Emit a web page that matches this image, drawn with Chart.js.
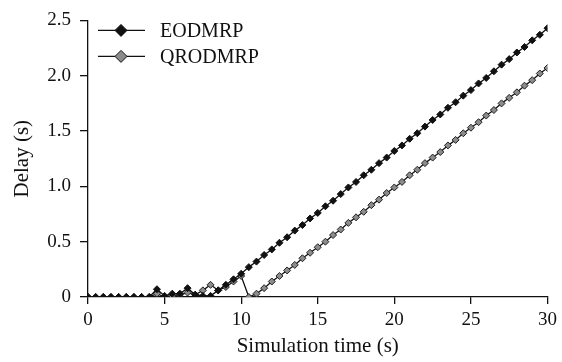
<!DOCTYPE html>
<html>
<head>
<meta charset="utf-8">
<script src="https://cdn.jsdelivr.net/npm/chart.js@4"></script>
<style>
  html, body { margin: 0; padding: 0; background: #fff; }
</style>
</head>
<body>
<canvas id="delay" width="562" height="362"></canvas>
<script>
// simulation time in seconds, one sample every 0.5 s
const times = [0, 0.5, 1, 1.5, 2, 2.5, 3, 3.5, 4, 4.5, 5, 5.5, 6, 6.5, 7, 7.5, 8, 8.5, 9, 9.5,
  10, 10.5, 11, 11.5, 12, 12.5, 13, 13.5, 14, 14.5, 15, 15.5, 16, 16.5, 17, 17.5, 18, 18.5, 19, 19.5,
  20, 20.5, 21, 21.5, 22, 22.5, 23, 23.5, 24, 24.5, 25, 25.5, 26, 26.5, 27, 27.5, 28, 28.5, 29, 29.5, 30];

const eodmrp = [0, 0, 0, 0, 0, 0, 0, 0, 0, 0.07, 0.01, 0.03, 0.03, 0.08, 0.02, 0.01, 0.01, 0.06, 0.11, 0.16,
  0.21, 0.27, 0.32, 0.38, 0.43, 0.49, 0.54, 0.60, 0.65, 0.71, 0.76, 0.82, 0.87, 0.93, 0.99, 1.04, 1.10, 1.15, 1.21, 1.26,
  1.32, 1.37, 1.43, 1.48, 1.54, 1.60, 1.65, 1.71, 1.76, 1.82, 1.87, 1.93, 1.98, 2.04, 2.10, 2.15, 2.21, 2.26, 2.32, 2.37, 2.43];

const qrodmrp = [0, 0, 0, 0, 0, 0, 0, 0, 0, 0.03, 0.00, 0.01, 0.02, 0.04, 0.02, 0.06, 0.11, 0.06, 0.09, 0.14,
  0.19, 0.00, 0.03, 0.08, 0.14, 0.19, 0.24, 0.29, 0.35, 0.40, 0.45, 0.50, 0.56, 0.61, 0.67, 0.72, 0.77, 0.83, 0.88, 0.94,
  0.99, 1.04, 1.10, 1.15, 1.21, 1.26, 1.31, 1.37, 1.42, 1.48, 1.53, 1.58, 1.64, 1.69, 1.75, 1.80, 1.85, 1.91, 1.96, 2.02, 2.07];

const seriesNames = ['EODMRP', 'QRODMRP'];
const markerFills = ['#111111', '#8c8c8c'];

const serif = 'Liberation Serif, Times New Roman, serif';

function toPoints(vals) {
  return vals.map((v, i) => ({ x: times[i], y: v }));
}

// legend drawn inside the plot: short line with a diamond, then the name
const insideLegend = {
  id: 'insideLegend',
  afterDraw(chart) {
    const c = chart.ctx;
    const area = chart.chartArea;
    c.save();
    chart.data.datasets.forEach((ds, i) => {
      const y = area.top + 10 + i * 26;
      const x0 = area.left + 10;
      c.strokeStyle = '#111';
      c.lineWidth = 1.3;
      c.beginPath();
      c.moveTo(x0, y);
      c.lineTo(x0 + 47, y);
      c.stroke();
      const cx = x0 + 23, r = 6;
      c.beginPath();
      c.moveTo(cx, y - r);
      c.lineTo(cx + r, y);
      c.lineTo(cx, y + r);
      c.lineTo(cx - r, y);
      c.closePath();
      c.fillStyle = ds.pointBackgroundColor;
      c.fill();
      c.lineWidth = 1;
      c.stroke();
      c.fillStyle = '#111';
      c.font = '20px ' + serif;
      c.textBaseline = 'middle';
      c.textAlign = 'left';
      c.fillText(ds.label, x0 + 62, y + 1);
    });
    c.restore();
  }
};

new Chart(document.getElementById('delay'), {
  type: 'line',
  data: {
    datasets: [
      {
        label: seriesNames[0],
        data: toPoints(eodmrp),
        borderColor: '#111',
        borderWidth: 1.3,
        pointStyle: 'rectRot',
        pointRadius: 3.5,
        pointBackgroundColor: markerFills[0],
        pointBorderColor: '#111',
        pointBorderWidth: 1,
        tension: 0
      },
      {
        label: seriesNames[1],
        data: toPoints(qrodmrp),
        borderColor: '#111',
        borderWidth: 1.3,
        pointStyle: 'rectRot',
        pointRadius: 3.5,
        pointBackgroundColor: markerFills[1],
        pointBorderColor: '#222',
        pointBorderWidth: 1,
        tension: 0
      }
    ]
  },
  options: {
    responsive: false,
    animation: false,
    layout: { padding: { top: 15, right: 14, left: 0, bottom: 0 } },
    plugins: {
      legend: { display: false },
      tooltip: { enabled: false }
    },
    scales: {
      x: {
        type: 'linear',
        min: 0,
        max: 30,
        border: { display: true, color: '#111', width: 1.3 },
        grid: { drawOnChartArea: false, drawTicks: true, tickLength: 7, color: '#111', lineWidth: 1.3 },
        ticks: {
          stepSize: 5,
          padding: 5,
          color: '#111',
          font: { family: serif, size: 19 }
        },
        title: {
          display: true,
          text: 'Simulation time (s)',
          color: '#111',
          font: { family: serif, size: 21 },
          padding: { top: 0, bottom: 3 }
        },
        afterFit(scale) { scale.height = 65; }
      },
      y: {
        min: 0,
        max: 2.5,
        border: { display: true, color: '#111', width: 1.3 },
        grid: { drawOnChartArea: false, drawTicks: true, tickLength: 8, color: '#111', lineWidth: 1.3 },
        ticks: {
          stepSize: 0.5,
          padding: 9,
          color: '#111',
          font: { family: serif, size: 19 },
          callback: v => v === 0 ? '0' : v.toFixed(1)
        },
        title: {
          display: true,
          text: 'Delay (s)',
          color: '#111',
          font: { family: serif, size: 21 },
          padding: { top: 10, bottom: 0 }
        },
        afterFit(scale) { scale.width = 88; }
      }
    }
  },
  plugins: [insideLegend]
});
</script>
</body>
</html>
